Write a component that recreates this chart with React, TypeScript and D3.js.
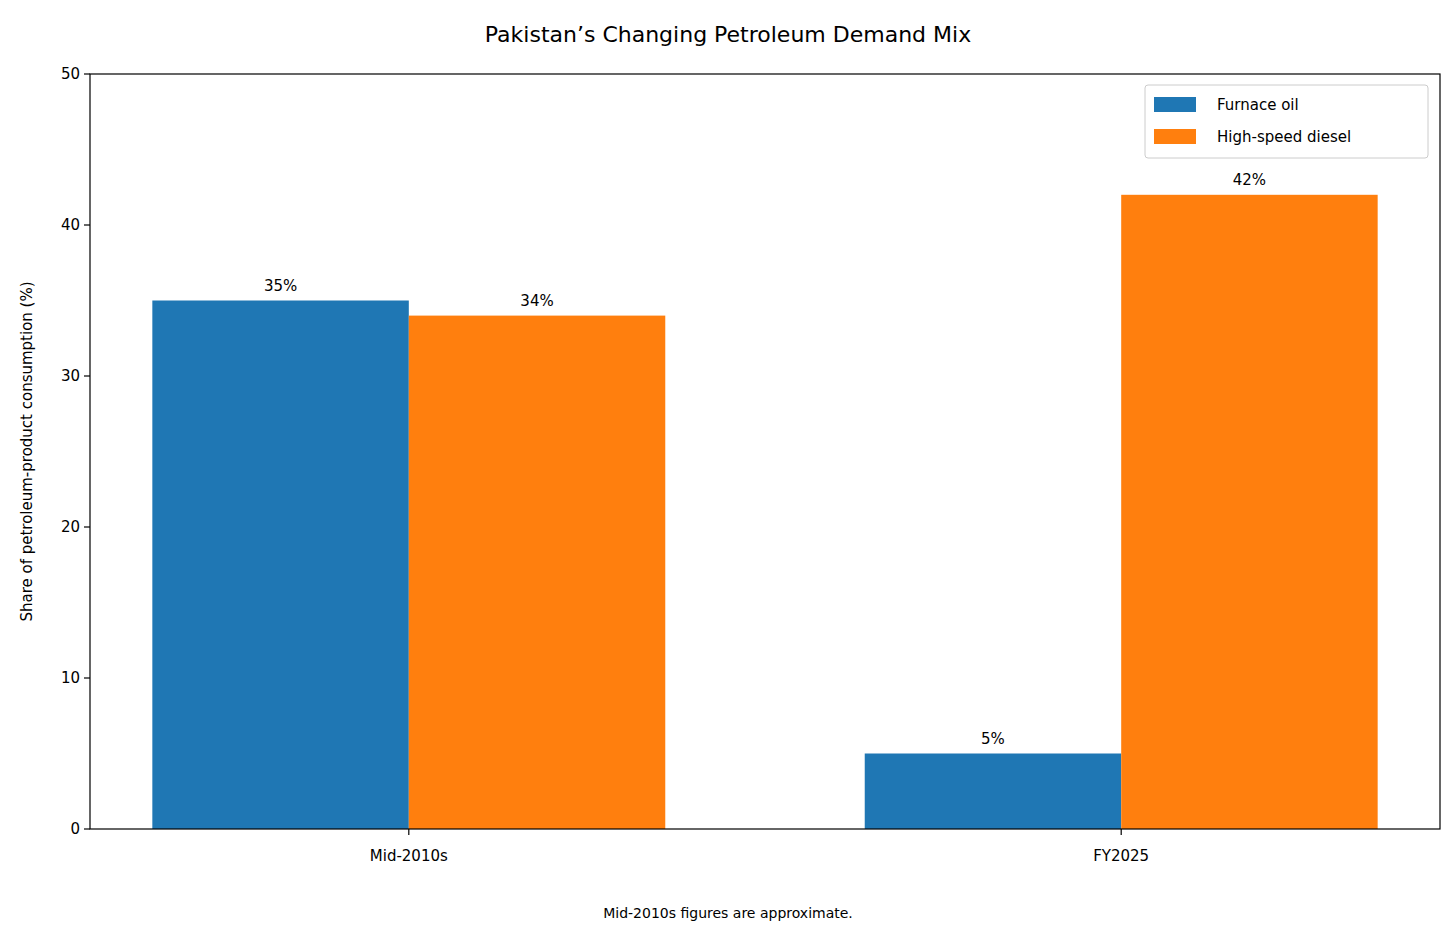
import { useEffect, useRef } from 'react';
import * as d3 from 'd3';

const categories = ['Mid-2010s', 'FY2025'];
const furnaceOil = [35, 5];
const diesel = [34, 42];
const seriesNames = ['Furnace oil', 'High-speed diesel'];
const colors = ['#1f77b4', '#ff7f0e'];
const yTicks = [0, 10, 20, 30, 40, 50];

export default function App() {
  const svgRef = useRef<SVGSVGElement>(null);

  useEffect(() => {
    if (!svgRef.current) return;
    const svg = d3.select(svgRef.current);
    svg.selectAll('*').remove();
    const font = 'DejaVu Sans, sans-serif';

    const left = 90, right = 1440, top = 74, bottom = 829;
    const x = d3.scaleLinear().domain([-0.4475, 1.4475]).range([left, right]);
    const y = d3.scaleLinear().domain([0, 50]).range([bottom, top]);
    const bw = 0.36;

    const series = [furnaceOil, diesel];
    series.forEach((vals, s) => {
      vals.forEach((v, i) => {
        const x0 = s === 0 ? i - bw : i;
        svg.append('rect')
          .attr('x', x(x0)).attr('y', y(v))
          .attr('width', x(x0 + bw) - x(x0)).attr('height', y(0) - y(v))
          .attr('fill', colors[s]);
        svg.append('text')
          .attr('x', x(x0 + bw / 2)).attr('y', y(v) - 10)
          .attr('text-anchor', 'middle').attr('font-family', font).attr('font-size', 15)
          .text(`${v}%`);
      });
    });

    // frame
    svg.append('rect')
      .attr('x', left).attr('y', top).attr('width', right - left).attr('height', bottom - top)
      .attr('fill', 'none').attr('stroke', '#000').attr('stroke-width', 1.2);

    yTicks.forEach(t => {
      svg.append('line').attr('x1', left - 6).attr('x2', left).attr('y1', y(t)).attr('y2', y(t))
        .attr('stroke', '#000').attr('stroke-width', 1.2);
      svg.append('text').attr('x', left - 10).attr('y', y(t)).attr('dy', '0.35em')
        .attr('text-anchor', 'end').attr('font-family', font).attr('font-size', 15).text(t);
    });

    categories.forEach((c, i) => {
      svg.append('line').attr('x1', x(i)).attr('x2', x(i)).attr('y1', bottom).attr('y2', bottom + 6)
        .attr('stroke', '#000').attr('stroke-width', 1.2);
      svg.append('text').attr('x', x(i)).attr('y', bottom + 32)
        .attr('text-anchor', 'middle').attr('font-family', font).attr('font-size', 15).text(c);
    });

    svg.append('text').attr('x', 728).attr('y', 42).attr('text-anchor', 'middle')
      .attr('font-family', font).attr('font-size', 22)
      .text('Pakistan’s Changing Petroleum Demand Mix');

    svg.append('text')
      .attr('transform', `translate(32, ${(top + bottom) / 2}) rotate(-90)`)
      .attr('text-anchor', 'middle').attr('font-family', font).attr('font-size', 15)
      .text('Share of petroleum-product consumption (%)');

    svg.append('text').attr('x', 728).attr('y', 918).attr('text-anchor', 'middle')
      .attr('font-family', font).attr('font-size', 14)
      .text('Mid-2010s figures are approximate.');

    // legend
    const lg = svg.append('g').attr('transform', 'translate(1145, 85)');
    lg.append('rect').attr('width', 283).attr('height', 73).attr('rx', 3)
      .attr('fill', '#fff').attr('fill-opacity', 0.8).attr('stroke', '#ccc');
    seriesNames.forEach((n, i) => {
      lg.append('rect').attr('x', 9).attr('y', 12 + i * 32).attr('width', 42).attr('height', 15)
        .attr('fill', colors[i]);
      lg.append('text').attr('x', 72).attr('y', 20 + i * 32).attr('dy', '0.35em')
        .attr('font-family', font).attr('font-size', 15).text(n);
    });
  }, []);

  return (
    <svg ref={svgRef} width={1456} height={940}
      style={{ position: 'absolute', left: 0, top: 0, background: '#fff' }} />
  );
}
